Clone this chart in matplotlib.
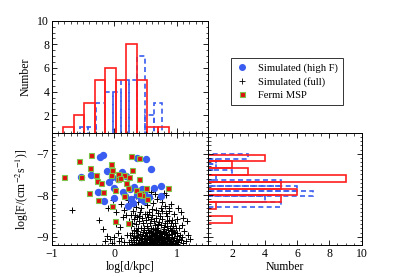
import matplotlib
matplotlib.use('Agg')
import matplotlib.pyplot as plt
from matplotlib.ticker import MultipleLocator
from matplotlib.lines import Line2D

plt.rcParams['font.family'] = ['Liberation Serif', 'DejaVu Serif']
plt.rcParams['mathtext.fontset'] = 'stix'

# histogram of log d (top panel)
fermi_d_edges = [-0.819, -0.650, -0.482, -0.313, -0.144, 0.024, 0.193, 0.362, 0.530, 0.699, 0.867]
fermi_d_counts = [1, 2, 3, 5, 6, 5, 8, 5, 1, 1]
sim_d_edges = [-0.55, -0.419, -0.288, -0.157, -0.026, 0.105, 0.236, 0.367, 0.498, 0.629, 0.76]
sim_d_counts = [1, 1, 3, 4, 4, 5, 5, 7, 2, 3]

# histogram of log F (right panel)
fermi_f_edges = [-7.02, -7.184, -7.348, -7.512, -7.676, -7.84, -8.004, -8.168, -8.332, -8.496, -8.66]
fermi_f_counts = [4, 2, 3, 9, 5, 6, 5, 1, 0, 2]
sim_f_edges = [-7.0, -7.128, -7.256, -7.384, -7.512, -7.64, -7.768, -7.896, -8.024, -8.152, -8.28]
sim_f_counts = [3, 1, 1, 2, 1, 5, 6, 7, 4, 5]

# scatter points (log d, log F)
fermi_pts = [(-0.81, -7.56), (-0.56, -7.18), (-0.37, -7.03), (-0.39, -7.34), (-0.53, -7.56),
             (-0.30, -7.51), (-0.28, -7.66), (-0.21, -7.70), (-0.05, -7.24), (-0.04, -7.38),
             (-0.05, -7.51), (0.06, -7.50), (0.06, -7.62), (0.15, -7.52), (0.23, -7.56),
             (0.26, -7.06), (0.29, -7.38), (0.40, -7.10), (0.39, -7.62), (0.18, -7.70),
             (0.21, -7.82), (0.35, -7.88), (0.42, -7.94), (0.51, -7.82), (0.45, -7.99),
             (0.53, -8.10), (0.86, -7.82), (-0.41, -7.95), (-0.18, -7.92), (-0.26, -8.12),
             (0.01, -7.88), (0.15, -8.03), (-0.04, -8.26), (0.21, -8.66), (0.01, -8.62),
             (0.40, -7.96), (0.09, -7.58)]

highf_pts = [(-0.23, -7.07), (-0.18, -7.02), (0.36, -7.10), (0.50, -7.13), (0.58, -7.36),
             (-0.12, -7.42), (0.12, -7.44), (-0.54, -7.55), (-0.38, -7.52), (-0.04, -7.56),
             (0.18, -7.54), (-0.08, -7.68), (0.05, -7.62), (0.00, -7.82), (0.25, -7.86),
             (0.38, -7.90), (0.31, -7.80), (0.44, -7.84), (0.64, -7.83), (0.74, -7.78),
             (0.75, -8.03), (-0.16, -8.15), (0.00, -8.06), (0.17, -8.02), (0.26, -8.08),
             (0.43, -8.09), (0.40, -7.97), (0.47, -7.95), (0.36, -8.00), (-0.27, -7.93),
             (0.30, -8.18), (0.22, -8.27), (0.14, -7.93), (0.48, -8.15), (0.55, -8.05)]

full_pts = [
    (-0.68, -8.35), (-0.24, -8.60), (-0.18, -8.82), (-0.12, -8.98), (-0.07, -9.06), (-0.15, -9.10),
    (-0.04, -9.16), (0.03, -8.70), (0.09, -8.76), (0.05, -8.92), (0.11, -9.03), (0.13, -8.52),
    (0.16, -9.13), (-0.01, -9.01), (0.07, -9.10), (0.02, -8.40), (-0.10, -8.30), (0.10, -8.22),
    (-0.02, -8.12), (0.20, -8.95),
    (0.22, -8.12), (0.27, -8.22), (0.31, -8.05), (0.34, -8.28), (0.38, -8.16), (0.43, -8.32),
    (0.47, -8.12), (0.52, -8.24), (0.57, -8.06), (0.62, -8.19), (0.69, -8.09), (0.73, -8.04),
    (0.77, -8.16), (0.81, -8.27), (0.74, -8.31), (0.67, -8.36), (0.60, -8.33), (0.55, -8.41),
    (0.49, -8.46), (0.41, -8.41), (0.36, -8.52), (0.30, -8.39), (0.26, -8.47), (0.23, -8.61),
    (0.29, -8.66), (0.91, -8.22), (1.02, -8.32), (1.06, -8.41), (1.10, -8.55), (1.16, -8.62),
    (0.96, -8.46), (0.88, -8.38), (0.84, -8.51), (0.93, -8.60), (1.00, -8.57), (1.08, -8.71),
    (1.12, -8.86), (1.18, -8.96), (1.15, -9.11), (1.10, -9.16), (1.21, -9.05), (0.65, -7.98),
    (0.58, -7.92), (0.45, -7.88), (0.82, -8.00), (0.79, -7.95), (0.35, -8.02), (0.15, -8.35),
    (0.18, -8.48),
    (0.27, -8.74), (0.32, -8.58), (0.35, -8.70), (0.39, -8.62), (0.42, -8.78), (0.44, -8.55),
    (0.46, -8.68), (0.50, -8.60), (0.52, -8.74), (0.54, -8.52), (0.57, -8.66), (0.59, -8.78),
    (0.61, -8.48), (0.63, -8.62), (0.65, -8.72), (0.67, -8.55), (0.69, -8.80), (0.71, -8.64),
    (0.73, -8.49), (0.75, -8.71), (0.77, -8.58), (0.79, -8.77), (0.81, -8.66), (0.83, -8.44),
    (0.85, -8.73), (0.87, -8.59), (0.89, -8.79), (0.91, -8.68), (0.94, -8.75), (0.97, -8.66),
    (0.99, -8.80), (1.03, -8.78), (0.31, -8.83), (0.37, -8.86), (0.48, -8.85), (0.56, -8.88),
    (0.66, -8.85), (0.72, -8.90), (0.78, -8.86), (0.86, -8.84), (0.95, -8.88), (1.01, -8.92),
    (1.05, -8.95), (0.40, -8.50), (0.53, -8.45), (0.70, -8.42), (0.88, -8.30), (0.76, -8.38),
    (0.28, -8.91), (0.34, -8.87), (0.41, -8.93), (0.46, -8.89), (0.51, -8.92), (0.58, -8.86),
    (0.62, -8.94), (0.68, -8.88), (0.74, -8.93), (0.80, -8.90), (0.84, -8.95), (0.90, -8.87),
    (0.97, -8.92), (0.25, -8.97), (0.32, -8.99), (0.38, -8.95), (0.44, -8.98), (0.49, -8.96),
    (0.55, -9.00), (0.60, -8.97), (0.66, -8.99), (0.71, -8.96), (0.77, -8.98), (0.82, -9.01),
    (0.88, -8.97), (0.93, -9.00), (1.00, -8.98), (1.08, -9.01), (0.30, -9.03), (0.36, -9.01),
    (0.42, -9.04), (0.47, -9.02), (0.52, -9.05), (0.57, -9.03), (0.63, -9.02), (0.69, -9.05),
    (0.73, -9.03), (0.79, -9.04), (0.85, -9.02), (0.91, -9.06), (0.96, -9.03), (1.03, -9.05),
    (0.27, -9.08), (0.34, -9.07), (0.40, -9.09), (0.45, -9.06), (0.50, -9.09), (0.55, -9.07),
    (0.61, -9.10), (0.65, -9.07), (0.70, -9.09), (0.76, -9.08), (0.81, -9.10), (0.87, -9.08),
    (0.94, -9.10), (0.99, -9.09), (1.06, -9.08), (0.23, -9.13), (0.31, -9.12), (0.38, -9.14),
    (0.43, -9.12), (0.48, -9.15), (0.53, -9.13), (0.59, -9.12), (0.64, -9.14), (0.68, -9.13),
    (0.74, -9.15), (0.79, -9.12), (0.84, -9.14), (0.90, -9.13), (0.97, -9.15), (1.02, -9.13),
    (0.29, -9.17), (0.35, -9.18), (0.41, -9.17), (0.46, -9.19), (0.51, -9.17), (0.57, -9.18),
    (0.62, -9.17), (0.67, -9.19), (0.72, -9.17), (0.77, -9.18), (0.83, -9.17), (0.88, -9.19),
    (0.93, -9.17), (1.00, -9.18), (0.54, -8.83), (0.60, -8.91), (0.64, -8.96), (0.70, -8.84),
    (0.75, -9.00), (0.82, -8.94), (0.86, -9.05), (0.78, -9.11), (0.72, -9.06), (0.67, -9.01),
    (0.58, -9.09), (0.52, -8.99), (0.48, -9.11), (0.63, -9.16), (0.69, -8.97), (0.80, -9.16),
    (0.73, -8.88), (0.89, -9.11), (0.92, -8.94), (0.56, -9.15), (0.65, -8.90), (0.83, -8.88),
    (0.61, -9.05), (0.76, -9.13), (0.71, -9.00), (0.44, -9.02), (0.59, -8.99), (0.75, -9.04),
    (0.86, -9.00), (0.68, -9.10), (0.53, -9.08), (0.80, -8.82), (0.62, -8.82), (0.47, -8.78),
    (0.38, -8.80), (0.92, -8.83), (0.70, -8.70), (0.58, -8.57), (0.84, -8.62), (0.33, -8.47)]

red = '#ff1e1e'
blue = '#3a5cf0'
W, H = 399, 277

fig = plt.figure(figsize=(W / 100, H / 100), dpi=100)
ax_top = fig.add_axes([52 / W, 1 - 133 / H, 156 / W, 112.3 / H])
ax_sc = fig.add_axes([52 / W, 1 - 245 / H, 156 / W, 112 / H])
ax_r = fig.add_axes([208 / W, 1 - 245 / H, 153.7 / W, 112 / H])


def style(ax):
    ax.tick_params(which='both', direction='in', top=True, right=True, labelsize=8.5, pad=2)
    ax.tick_params(which='major', length=3.5, width=0.6)
    ax.tick_params(which='minor', length=1.8, width=0.5)
    for s in ax.spines.values():
        s.set_linewidth(0.7)


# top histogram
w = [b - a for a, b in zip(sim_d_edges[:-1], sim_d_edges[1:])]
ax_top.bar(sim_d_edges[:-1], sim_d_counts, width=w, align='edge', fill=False,
           edgecolor=blue, linewidth=1.2, linestyle=(0, (3, 2)))
w = [b - a for a, b in zip(fermi_d_edges[:-1], fermi_d_edges[1:])]
ax_top.bar(fermi_d_edges[:-1], fermi_d_counts, width=w, align='edge', fill=False,
           edgecolor=red, linewidth=1.2)
ax_top.set_xlim(-1, 1.5)
ax_top.set_ylim(0.5, 10)
ax_top.xaxis.set_major_locator(MultipleLocator(1))
ax_top.xaxis.set_minor_locator(MultipleLocator(0.1))
ax_top.yaxis.set_major_locator(MultipleLocator(2))
ax_top.yaxis.set_minor_locator(MultipleLocator(0.5))
ax_top.set_xticklabels([])
ax_top.set_ylabel('Number', fontsize=8.5, labelpad=4)
style(ax_top)

# scatter
fd, ff = zip(*full_pts)
hd, hf = zip(*highf_pts)
md, mf = zip(*fermi_pts)
ax_sc.plot(fd, ff, '+', color='k', ms=5, mew=0.7)
ax_sc.plot(hd, hf, 'o', color=blue, ms=4.3, mec=blue)
ax_sc.plot(md, mf, 's', color='#e01010', ms=3.6, mec='#7cc44a', mew=0.8)
ax_sc.set_xlim(-1, 1.5)
ax_sc.set_ylim(-9.2, -6.5)
ax_sc.xaxis.set_major_locator(MultipleLocator(1))
ax_sc.xaxis.set_minor_locator(MultipleLocator(0.1))
ax_sc.yaxis.set_major_locator(MultipleLocator(1))
ax_sc.yaxis.set_minor_locator(MultipleLocator(0.1))
ax_sc.set_xlabel('log[d/kpc]', fontsize=8.5, labelpad=1)
ax_sc.set_ylabel('log[F/(cm$^{-2}$s$^{-1}$)]', fontsize=8.5, labelpad=4)
style(ax_sc)

# right histogram
h = [a - b for a, b in zip(sim_f_edges[:-1], sim_f_edges[1:])]
ax_r.barh(sim_f_edges[1:], sim_f_counts, height=h, align='edge', fill=False,
          edgecolor=blue, linewidth=1.2, linestyle=(0, (3, 2)))
h = [a - b for a, b in zip(fermi_f_edges[:-1], fermi_f_edges[1:])]
ax_r.barh(fermi_f_edges[1:], fermi_f_counts, height=h, align='edge', fill=False,
          edgecolor=red, linewidth=1.2)
ax_r.set_xlim(0.5, 10)
ax_r.set_ylim(-9.2, -6.5)
ax_r.xaxis.set_major_locator(MultipleLocator(2))
ax_r.xaxis.set_minor_locator(MultipleLocator(0.5))
ax_r.yaxis.set_major_locator(MultipleLocator(1))
ax_r.yaxis.set_minor_locator(MultipleLocator(0.1))
ax_r.set_yticklabels([])
ax_r.set_xlabel('Number', fontsize=8.5, labelpad=1)
style(ax_r)

handles = [Line2D([], [], marker='o', ls='', color=blue, ms=4),
           Line2D([], [], marker='+', ls='', color='k', ms=4, mew=0.6),
           Line2D([], [], marker='s', ls='', color='#e01010', mec='#7cc44a', ms=3.6, mew=0.8)]
labels = ['Simulated (high F)', 'Simulated (full)', 'Fermi MSP']
leg = fig.legend(handles, labels, loc='upper left', bbox_to_anchor=(226 / W, 1 - 53 / H),
                 fontsize=7.6, frameon=True, fancybox=False, edgecolor='k',
                 handlelength=1.0, handletextpad=1.0, borderpad=0.5, labelspacing=0.35)
leg.get_frame().set_linewidth(0.7)

fig.savefig('out.png', dpi=100)
